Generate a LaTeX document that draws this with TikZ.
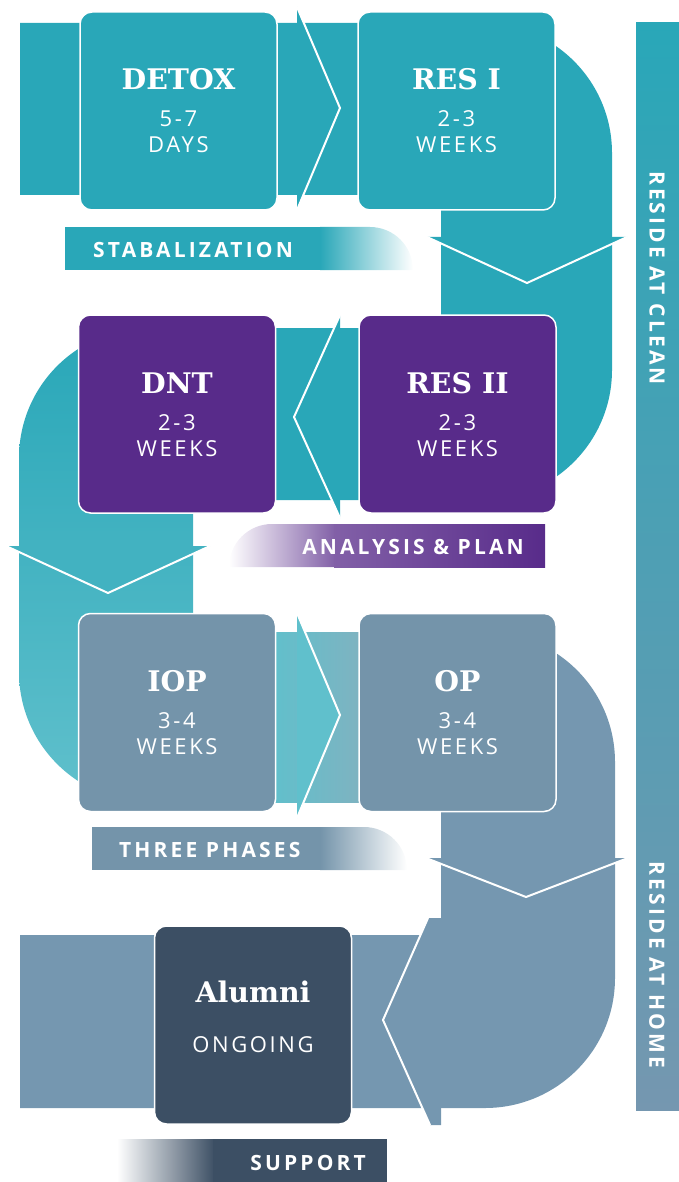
\documentclass[tikz,border=0pt]{standalone}
\usepackage{fontspec}
\setmainfont{Open Sans}
\newfontfamily\slab{DejaVu Serif}
\usetikzlibrary{positioning,calc}
\definecolor{cleanteal}{RGB}{41,167,184}
\definecolor{paleteal}{RGB}{96,192,204}
\definecolor{grayteal}{RGB}{128,178,192}
\definecolor{planpurple}{RGB}{88,43,138}
\definecolor{homeblue}{RGB}{117,151,176}
\definecolor{phaseblue}{RGB}{116,148,170}
\definecolor{alumnavy}{RGB}{60,79,100}
\begin{document}
\begin{tikzpicture}[x=1pt,y=-1pt,
    stage/.style={draw=white,line width=1.5pt,rounded corners=12,minimum width=197,minimum height=198,inner sep=0},
    title/.style={text=white,anchor=base,font=\slab\bfseries\fontsize{28.4}{30}\selectfont},
    span/.style={text=white,anchor=base,font=\fontsize{22}{24}\selectfont\addfontfeatures{LetterSpace=12}},
    tag/.style={text=white,inner sep=0,font=\bfseries\fontsize{21}{24}\selectfont\addfontfeatures{LetterSpace=15}},
    seam/.style={draw=white,line width=2pt}]
    \useasboundingbox (0,0) rectangle (679,1182);
    % bands
    \fill[cleanteal] (20,23) -- (482,23) arc[start angle=-90,end angle=0,radius=130]
        -- (612,370) arc[start angle=0,end angle=90,radius=130]
        -- (270,500) -- (270,328) -- (441,328) -- (441,195) -- (20,195) -- cycle;
    \shade[top color=cleanteal,bottom color=paleteal] (276,328) -- (149,328) arc[start angle=-90,end angle=-180,radius=130]
        -- (19,672) arc[start angle=180,end angle=90,radius=130]
        -- (276,802) -- (276,632) -- (193,632) -- (193,500) -- (276,500) -- cycle;
    \shade[left color=paleteal,right color=grayteal] (270,632) rectangle (365,802);
    \fill[homeblue] (362,632) -- (485,632) arc[start angle=-90,end angle=0,radius=130]
        -- (615,978) arc[start angle=0,end angle=90,radius=130]
        -- (20,1108) -- (20,935) -- (441,935) -- (441,802) -- (362,802) -- cycle;
    % arrow heads
    \fill[cleanteal] (297,7) -- (340,108) -- (297,210) -- cycle;
    \draw[seam] (297,7) -- (340,108) -- (297,210);
    \fill[cleanteal] (427,237) -- (527,283) -- (627,237) -- cycle;
    \draw[seam] (427,237) -- (527,283) -- (627,237);
    \fill[cleanteal] (340,315) -- (294,417) -- (340,518) -- cycle;
    \draw[seam] (340,315) -- (294,417) -- (340,518);
    \fill[cleanteal!55!paleteal] (6,546) -- (108,593) -- (210,546) -- cycle;
    \draw[seam] (6,546) -- (108,593) -- (210,546);
    \fill[paleteal] (297,613) -- (340,715) -- (297,818) -- cycle;
    \draw[seam] (297,613) -- (340,715) -- (297,818);
    \fill[homeblue] (426,858) -- (526,897) -- (628,858) -- cycle;
    \draw[seam] (426,858) -- (526,897) -- (628,858);
    \fill[homeblue] (428,918) -- (441,918) -- (441,1125) -- (430,1125) -- (383,1020) -- cycle;
    \draw[seam] (428,918) -- (383,1020) -- (430,1125);
    % stages
    \node[stage,fill=cleanteal] (detox) at (178.5,111) {};
    \node[stage,fill=cleanteal] (res1) at (456.5,111) {};
    \node[stage,fill=planpurple] (dnt) at (177,414) {};
    \node[stage,fill=planpurple] (res2) at (457.5,414) {};
    \node[stage,fill=phaseblue] (iop) at (177,712.5) {};
    \node[stage,fill=phaseblue] (op) at (457.5,712.5) {};
    \node[stage,fill=alumnavy] (alumni) at (253,1025) {};
    \node[title] (detoxname) at ($(detox)+(0,-21)$) {DETOX};
    \node[span] (detoxnum) at ($(detox)+(0,16)$) {5-7};
    \node[span] (detoxunit) at ($(detox)+(0,42)$) {DAYS};
    \node[title] (res1name) at ($(res1)+(0,-21)$) {RES I};
    \node[span] (res1num) at ($(res1)+(0,16)$) {2-3};
    \node[span] (res1unit) at ($(res1)+(0,42)$) {WEEKS};
    \node[title] (dntname) at ($(dnt)+(0,-21)$) {DNT};
    \node[span] (dntnum) at ($(dnt)+(0,16)$) {2-3};
    \node[span] (dntunit) at ($(dnt)+(0,42)$) {WEEKS};
    \node[title] (res2name) at ($(res2)+(0,-21)$) {RES II};
    \node[span] (res2num) at ($(res2)+(0,16)$) {2-3};
    \node[span] (res2unit) at ($(res2)+(0,42)$) {WEEKS};
    \node[title] (iopname) at ($(iop)+(0,-21)$) {IOP};
    \node[span] (iopnum) at ($(iop)+(0,16)$) {3-4};
    \node[span] (iopunit) at ($(iop)+(0,42)$) {WEEKS};
    \node[title] (opname) at ($(op)+(0,-21)$) {OP};
    \node[span] (opnum) at ($(op)+(0,16)$) {3-4};
    \node[span] (opunit) at ($(op)+(0,42)$) {WEEKS};
    \node[title] (alumniname) at ($(alumni)+(0,-23)$) {Alumni};
    \node[span] (alumniunit) at ($(alumni)+(0,27)$) {ONGOING};
    % tags
    \fill[cleanteal] (65,227) rectangle (322,270);
    \shade[left color=cleanteal,right color=white] (320,227) -- (370,227) arc[start angle=-90,end angle=0,radius=43] -- (320,270) -- cycle;
    \shade[left color=white,right color=planpurple!75] (229,567) arc[start angle=180,end angle=270,radius=43] -- (335,524) -- (335,567) -- cycle;
    \shade[left color=planpurple!75,right color=planpurple] (334,524) rectangle (545,567);
    \fill[phaseblue] (92,827) rectangle (322,870);
    \shade[left color=phaseblue,right color=white] (320,827) -- (364,827) arc[start angle=-90,end angle=0,radius=43] -- (320,870) -- cycle;
    \shade[left color=white,right color=alumnavy] (117,1139) rectangle (215,1182);
    \fill[alumnavy] (213,1139) rectangle (387,1182);
    \node[tag,anchor=base west] (stab) at (93,257) {STABALIZATION};
    \node[tag,anchor=base east] (plan) at (524,554) {ANALYSIS \& PLAN};
    \node[tag,anchor=base west] (phases) at (119,857) {THREE PHASES};
    \node[tag,anchor=base east] (support) at (366,1170) {SUPPORT};
    % reside
    \shade[top color=cleanteal,bottom color=homeblue] (636,23) rectangle (679,1110);
    \node[tag,rotate=-90] (clean) at (657,278) {RESIDE AT CLEAN};
    \node[tag,rotate=-90] (home) at (657,965) {RESIDE AT HOME};
\end{tikzpicture}
\end{document}
